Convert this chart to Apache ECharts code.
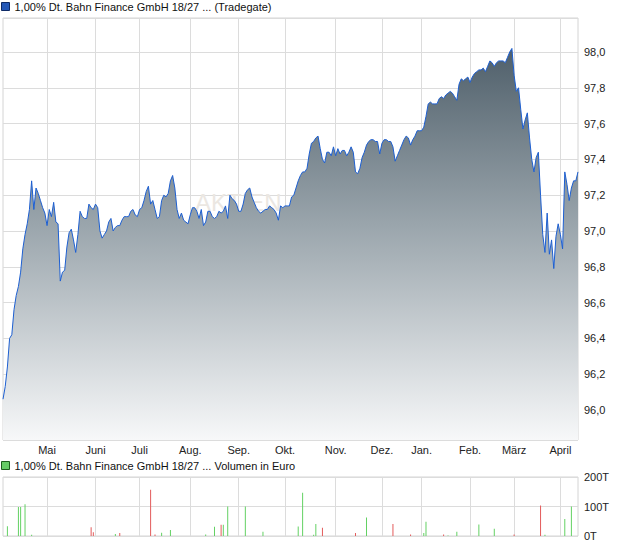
<!DOCTYPE html>
<html><head><meta charset="utf-8">
<script src="https://cdn.jsdelivr.net/npm/echarts@6/dist/echarts.min.js"></script>
<style>html,body{margin:0;padding:0;background:#fff}#c{width:620px;height:546px}</style>
</head><body><div id="c"></div>
<script>
const priceName = '1,00% Dt. Bahn Finance GmbH 18/27 ... (Tradegate)';
const volumeName = '1,00% Dt. Bahn Finance GmbH 18/27 ... Volumen in Euro';
const monthNames = ['Jan.','Feb.','März','April','Mai','Juni','Juli','Aug.','Sep.','Okt.','Nov.','Dez.'];
const closedDays = ['2024-05-01','2024-12-24','2024-12-25','2024-12-26','2024-12-31','2025-01-01'];
const firstDay = '2024-04-03';
const lastDay = '2025-04-11';

// trading-day calendar (categories)
const dates = [];
for (let d = new Date(firstDay + 'T00:00:00Z'); d <= new Date(lastDay + 'T00:00:00Z'); d.setUTCDate(d.getUTCDate() + 1)) {
  const wd = d.getUTCDay(); const s = d.toISOString().slice(0, 10);
  if (wd !== 0 && wd !== 6 && !closedDays.includes(s)) dates.push(s);
}

// closing prices, one per trading day
const price = [
  96.06,96.13,96.24,96.40,96.42,96.56,96.64,96.69,96.77,96.90,96.98,97.04,97.12,97.28,97.12,97.24,97.21,97.17,97.13,97.10,
  97.03,97.12,97.08,97.16,97.05,97.04,96.72,96.77,96.78,96.91,96.99,97.01,96.95,96.88,96.98,97.11,97.08,97.07,97.07,97.15,97.13,97.12,
  97.15,97.13,97.00,96.96,96.98,97.00,97.05,97.07,97.00,97.02,97.03,97.03,97.06,97.08,97.08,97.08,97.11,97.12,97.09,97.08,
  97.12,97.13,97.17,97.22,97.25,97.15,97.17,97.12,97.07,97.08,97.17,97.20,97.19,97.21,97.28,97.31,97.24,97.12,97.07,97.10,97.06,97.05,97.04,
  97.09,97.13,97.13,97.11,97.07,97.12,97.03,97.05,97.11,97.11,97.08,97.07,97.08,97.11,97.10,97.11,97.14,97.07,97.20,97.18,97.17,97.15,
  97.11,97.11,97.15,97.21,97.23,97.24,97.19,97.16,97.13,97.11,97.10,97.11,97.12,97.12,97.14,97.13,97.12,97.10,97.06,97.14,97.13,97.14,
  97.14,97.14,97.19,97.20,97.24,97.28,97.31,97.33,97.33,97.35,97.43,97.49,97.50,97.52,97.53,97.46,97.40,97.38,97.44,97.44,97.42,97.47,97.42,
  97.46,97.43,97.45,97.45,97.42,97.44,97.47,97.44,97.33,97.32,97.35,97.41,97.44,97.48,97.50,97.51,97.51,97.50,97.50,97.43,
  97.49,97.51,97.51,97.50,97.50,97.47,97.39,97.42,97.45,97.48,97.51,97.53,97.52,97.48,97.51,97.53,97.56,97.56,97.56,
  97.58,97.64,97.71,97.72,97.71,97.71,97.71,97.74,97.75,97.74,97.76,97.77,97.78,97.77,97.75,97.73,97.82,97.85,97.84,97.85,97.86,
  97.83,97.86,97.88,97.89,97.90,97.90,97.91,97.89,97.92,97.95,97.94,97.92,97.94,97.95,97.95,97.95,97.94,97.97,98.00,98.02,
  97.87,97.78,97.80,97.68,97.57,97.62,97.66,97.52,97.40,97.33,97.41,97.44,97.20,96.98,96.88,97.10,96.87,96.95,96.79,96.97,
  97.04,96.98,96.90,97.33,97.26,97.17,97.24,97.28,97.28,97.33
];

// volume in thousand euro: [trading-day index, volume]
const volumeUp = [[2,33],[7,98],[8,98],[10,108],[13,4],[51,7],[72,11],[76,20],[92,5],[96,31],[100,38],[102,100],[110,100],[118,14],
  [134,32],[136,147],[141,4],[142,41],[165,63],[191,10],[192,48],[202,2],[206,14],[216,39],[223,25],[246,4],[255,58],[258,100]];
const volumeDown = [[40,30],[41,13],[53,10],[67,157],[69,5],[99,38],[145,28],[160,10],[177,41],[185,5],[200,5],[232,5],[244,103]];

const font = 'Liberation Sans, Arial, sans-serif';
const narrowFont = '"Liberation Sans Narrow", "Arial Narrow", Liberation Sans, Arial, sans-serif';
const isMonthStart = (idx) => idx > 0 && dates[idx].slice(5, 7) !== dates[idx - 1].slice(5, 7);

const chart = echarts.init(document.getElementById('c'), null, {renderer: 'svg'});
chart.setOption({
  animation: false,
  backgroundColor: '#fff',
  textStyle: {fontFamily: font},
  legend: [
    {left: 1, top: 1, padding: 0, itemWidth: 8, itemHeight: 8, icon: 'rect', selectedMode: false,
     data: [{name: priceName, itemStyle: {color: '#2458b8', borderColor: '#0e2a66', borderWidth: 1}}],
     textStyle: {fontSize: 11, color: '#111', fontFamily: font}},
    {left: 1, top: 460, padding: 0, itemWidth: 8, itemHeight: 8, icon: 'rect', selectedMode: false,
     data: [{name: volumeName, itemStyle: {color: '#66cc66', borderColor: '#1e5e1e', borderWidth: 1}}],
     textStyle: {fontSize: 11, color: '#111', fontFamily: font}}
  ],
  graphic: [{type: 'text', left: 195, top: 190, z: 1, silent: true,
    style: {text: 'AKTIEN', fontSize: 24, fontFamily: font, fill: '#ebe7e2'}}],
  grid: [
    {left: 3, right: 42, top: 18, height: 422, show: true, borderColor: '#d4d4d4', borderWidth: 1, containLabel: false},
    {left: 3, right: 42, top: 477, height: 59, show: true, borderColor: '#d4d4d4', borderWidth: 1, containLabel: false}
  ],
  xAxis: [
    {type: 'category', gridIndex: 0, data: dates, boundaryGap: false,
     axisLine: {show: false}, axisTick: {show: false},
     axisLabel: {interval: (i) => isMonthStart(i), formatter: (v) => monthNames[+v.slice(5, 7) - 1],
       fontSize: 11, color: '#222', fontFamily: narrowFont, margin: 4, hideOverlap: false},
     splitLine: {show: true, interval: (i) => isMonthStart(i), lineStyle: {color: '#dcdcdc', width: 1}}},
    {type: 'category', gridIndex: 1, data: dates, boundaryGap: false,
     axisLine: {show: false}, axisTick: {show: false}, axisLabel: {show: false},
     splitLine: {show: true, interval: (i) => isMonthStart(i), lineStyle: {color: '#dcdcdc', width: 1}}}
  ],
  yAxis: [
    {type: 'value', gridIndex: 0, position: 'right', min: 95.832, max: 98.19, splitNumber: 12, scale: true,
     axisLine: {show: false}, axisTick: {show: false},
     axisLabel: {showMinLabel: false, showMaxLabel: false, fontSize: 11, color: '#222', fontFamily: font, margin: 6,
       formatter: (v) => v.toFixed(1).replace('.', ',')},
     splitLine: {lineStyle: {color: '#dcdcdc', width: 1}}},
    {type: 'value', gridIndex: 1, position: 'right', min: 0, max: 200, interval: 100,
     axisLine: {show: false}, axisTick: {show: false},
     axisLabel: {fontSize: 11, color: '#222', fontFamily: font, margin: 6, formatter: (v) => v + 'T'},
     splitLine: {lineStyle: {color: '#dcdcdc', width: 1}}}
  ],
  series: [
    {name: priceName, type: 'line', xAxisIndex: 0, yAxisIndex: 0, data: price, showSymbol: false, symbol: 'none',
     lineStyle: {color: '#1d5fd1', width: 1}, itemStyle: {color: '#2458b8'}, z: 2,
     areaStyle: {opacity: 1, color: new echarts.graphic.LinearGradient(0, 0, 0, 1, [
       {offset: 0, color: '#4f5f6a'}, {offset: 0.45, color: '#9aa5ac'}, {offset: 1, color: '#f7f8f9'}])}},
    {name: volumeName, type: 'bar', xAxisIndex: 1, yAxisIndex: 1, data: volumeUp, barWidth: 1, barGap: '-100%',
     itemStyle: {color: '#63d163'}},
    {name: 'Volumen (fallend)', type: 'bar', xAxisIndex: 1, yAxisIndex: 1, data: volumeDown, barWidth: 1, barGap: '-100%',
     itemStyle: {color: '#e35b5b'}}
  ]
});
</script></body></html>
